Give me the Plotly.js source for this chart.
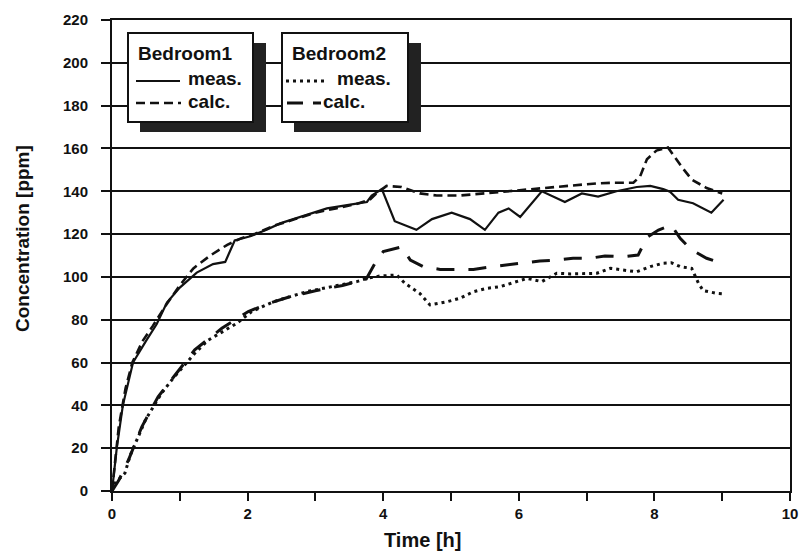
<!DOCTYPE html>
<html>
<head>
<meta charset="utf-8">
<script src="https://cdn.plot.ly/plotly-3.0.1.min.js"></script>
<style>html,body{margin:0;padding:0;background:#fff;}#chart{width:809px;height:557px;}</style>
</head>
<body>
<div id="chart"></div>
<script>
// Bedroom1 measured
const b1MeasT = [0,0.03,0.07,0.16,0.31,0.5,0.66,0.81,1.0,1.25,1.49,1.67,1.81,2.04,2.28,2.48,2.77,3.17,3.56,3.76,3.83,3.98,4.17,4.49,4.72,5.01,5.28,5.5,5.7,5.85,6.02,6.34,6.68,6.93,7.17,7.44,7.74,7.94,8.13,8.23,8.35,8.57,8.84,9.02];
const b1MeasC = [0,10,20,40,60,70,78,88,95,102,106,107,117,119,122,125,128,132,134,135,138,141,126,122,127,130,127,122,130,132,128,140,135,139,137.5,140,142,142.5,141,139.8,136,134.4,130,136];
// Bedroom1 calculated
const b1CalcT = [0,0.05,0.1,0.2,0.3,0.45,0.6,0.8,1.0,1.2,1.45,1.7,1.9,2.1,2.4,2.7,3.0,3.3,3.6,3.8,3.9,4.05,4.27,4.54,4.79,5.13,5.48,5.87,6.12,6.5,6.9,7.15,7.4,7.69,7.79,7.89,8.03,8.2,8.4,8.55,8.77,9.0];
const b1CalcC = [0,15,30,48,60,70,77,87,96,104,110,115,118,120,124,127,130,132,134,136,139,142.5,142,139,138,138,139,140,141,142,143,143.7,144,144,147,155,159,160.5,151.5,145.5,141.5,139];
// Bedroom2 measured
const b2MeasT = [0,0.04,0.19,0.27,0.41,0.49,0.61,0.73,0.88,1.05,1.22,1.42,1.62,1.84,2.06,2.38,2.63,2.87,3.12,3.36,3.61,3.76,3.95,4.2,4.32,4.54,4.69,4.94,5.13,5.33,5.53,5.72,5.92,6.12,6.34,6.56,6.76,6.95,7.15,7.35,7.54,7.74,7.94,8.13,8.25,8.38,8.55,8.65,8.72,8.92,9.04];
const b2MeasC = [0,3.6,8.3,16.8,27,33,39.4,45.6,51.8,58,64.3,70.5,74.4,78.3,83.8,88.4,90.8,93.1,94.7,96.2,97.8,99.3,100.4,100.9,97,92.3,86.9,88.4,90,93.1,94.7,95.4,97.3,99.3,97.8,101.7,101.4,101.4,101.7,104,103.2,102.4,104.8,106.4,106.6,104.8,104,97,93.6,92.3,92];
// Bedroom2 calculated
const b2CalcT = [0,0.1,0.25,0.44,0.68,0.93,1.22,1.62,2.01,2.3,2.6,3.0,3.4,3.75,3.88,4.0,4.27,4.4,4.59,4.84,5.13,5.33,5.62,5.87,6.09,6.31,6.58,6.8,7.05,7.27,7.54,7.76,7.89,8.06,8.25,8.38,8.55,8.77,8.99];
const b2CalcC = [0,5,15,30,44,54.2,65.9,76,83.8,87.5,90.5,93.5,96,99,106.4,111.8,114,107.9,104.8,103.5,103.5,103.5,104.8,105.6,106.6,107.4,107.9,108.7,108.7,109.8,109.4,110.2,118.4,121.9,124.2,118,112.6,108.7,106.4];

const xTickVals = [0,2,4,6,8,10];
const yTickVals = [0,20,40,60,80,100,120,140,160,180,200,220];

const FONT = 'Liberation Sans, Arial, sans-serif';
const INK = '#111';

const traces = [
  {x: b1MeasT, y: b1MeasC, mode: 'lines', name: 'Bedroom1 meas.', line: {color: INK, width: 2.2}},
  {x: b1CalcT, y: b1CalcC, mode: 'lines', name: 'Bedroom1 calc.', line: {color: INK, width: 2.6, dash: '9px,5px'}},
  {x: b2MeasT, y: b2MeasC, mode: 'lines', name: 'Bedroom2 meas.', line: {color: INK, width: 3, dash: '3px,4px'}},
  {x: b2CalcT, y: b2CalcC, mode: 'lines', name: 'Bedroom2 calc.', line: {color: INK, width: 3, dash: '18px,14px'}}
];

// pixel helpers for legend boxes (plot area: x 112..790, y 20..491)
const px = v => (v - 112) / 678;
const py = v => (491 - v) / 471;

const shapes = [];
const annotations = [];
function legendBox(x0, x1, title, sampleDash, sampleWidth) {
  shapes.push({type: 'rect', xref: 'paper', yref: 'paper', x0: px(x0 + 12), x1: px(x1 + 13), y0: py(132), y1: py(43), fillcolor: '#222', line: {width: 0}});
  shapes.push({type: 'rect', xref: 'paper', yref: 'paper', x0: px(x0), x1: px(x1), y0: py(122), y1: py(33), fillcolor: '#fff', line: {color: INK, width: 2}});
}
legendBox(128, 253);
legendBox(282, 408);
// legend samples
shapes.push({type: 'line', xref: 'paper', yref: 'paper', x0: px(136), x1: px(180), y0: py(81), y1: py(81), line: {color: INK, width: 2.2}});
shapes.push({type: 'line', xref: 'paper', yref: 'paper', x0: px(136), x1: px(181), y0: py(103), y1: py(103), line: {color: INK, width: 2.6, dash: '9px,5px'}});
shapes.push({type: 'line', xref: 'paper', yref: 'paper', x0: px(286), x1: px(328), y0: py(81), y1: py(81), line: {color: INK, width: 3, dash: '3px,4px'}});
shapes.push({type: 'line', xref: 'paper', yref: 'paper', x0: px(287), x1: px(321), y0: py(103), y1: py(103), line: {color: INK, width: 3, dash: '16px,10px'}});

const legFont = {family: FONT, size: 19, color: INK, weight: 'bold'};
function lbl(x, y, text) {
  annotations.push({xref: 'paper', yref: 'paper', x: px(x), y: py(y), text: text, showarrow: false, xanchor: 'left', yanchor: 'middle', font: legFont});
}
lbl(136, 54, '<b>Bedroom1</b>');
lbl(186, 79, '<b>meas.</b>');
lbl(186, 102, '<b>calc.</b>');
lbl(290, 54, '<b>Bedroom2</b>');
lbl(335, 79, '<b>meas.</b>');
lbl(321, 102, '<b>calc.</b>');

// axis titles
annotations.push({xref: 'paper', yref: 'paper', x: px(422), y: py(540), text: '<b>Time [h]</b>', showarrow: false, xanchor: 'center', yanchor: 'middle', font: {family: FONT, size: 20, color: INK}});
annotations.push({xref: 'paper', yref: 'paper', x: px(22), y: py(238), text: '<b>Concentration [ppm]</b>', textangle: -90, showarrow: false, xanchor: 'center', yanchor: 'middle', font: {family: FONT, size: 19, color: INK}});

const layout = {
  width: 809, height: 557,
  margin: {l: 112, r: 19, t: 20, b: 66},
  paper_bgcolor: '#fff', plot_bgcolor: '#fff',
  showlegend: false,
  font: {family: FONT, color: INK},
  xaxis: {
    range: [0, 10], tickvals: xTickVals, ticktext: xTickVals.map(String),
    ticks: 'outside', ticklen: 8, tickwidth: 2, tickcolor: INK,
    minor: {dtick: 1, ticks: 'outside', ticklen: 8, tickwidth: 2, tickcolor: INK, showgrid: false},
    showgrid: false, zeroline: false,
    showline: true, linecolor: INK, linewidth: 2, mirror: true,
    tickfont: {family: FONT, size: 15, color: INK, weight: 'bold'}
  },
  yaxis: {
    range: [0, 220], tickvals: yTickVals, ticktext: yTickVals.map(String),
    ticks: 'outside', ticklen: 9, tickwidth: 2, tickcolor: INK,
    showgrid: true, gridcolor: INK, gridwidth: 2, zeroline: false,
    showline: true, linecolor: INK, linewidth: 2, mirror: true,
    ticklabelstandoff: 10,
    tickfont: {family: FONT, size: 15, color: INK, weight: 'bold'}
  },
  shapes: shapes,
  annotations: annotations
};

Plotly.newPlot('chart', traces, layout, {displayModeBar: false, staticPlot: true});
</script>
</body>
</html>
